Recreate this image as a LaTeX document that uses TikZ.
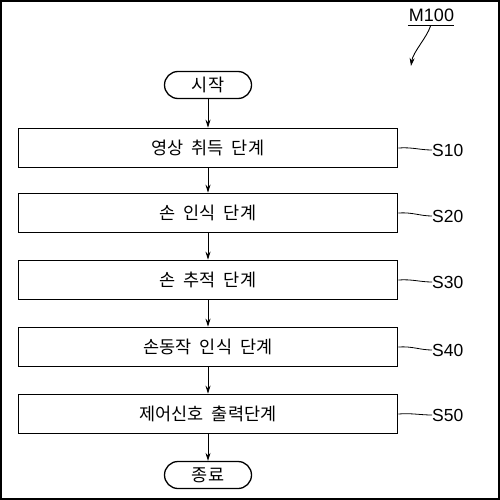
\documentclass[tikz,border=0pt]{standalone}
\usepackage{fontspec}
\setmainfont{Liberation Sans}
\newfontfamily\kr{Noto Sans CJK KR}
\newcommand\krtext{\kr\fontsize{17.5}{19}\selectfont\spaceskip=0.45em plus 0pt minus 0pt\relax}
\usetikzlibrary{arrows.meta}
\begin{document}
\begin{tikzpicture}[x=1pt,y=-1pt,
 stepbox/.style={draw,line width=1.6pt,minimum width=379pt,minimum height=39pt,inner sep=0pt,font=\krtext},
 term/.style={draw,line width=1.3pt,rounded corners=13.5pt,minimum width=87pt,minimum height=27pt,inner sep=0pt,font=\krtext},
 arr/.style={line width=0.9pt,-{Stealth[length=8pt,width=5pt]}},
 lead/.style={line width=0.8pt},
 lbl/.style={font=\fontsize{17.5}{19}\selectfont,anchor=west,inner sep=0pt}]
\useasboundingbox (0,0) rectangle (500,500);
\draw[line width=2pt] (1,1) rectangle (498.5,498.5);
\node[term] (st) at (208,85) {시작};
\node[stepbox] (b1) at (208,148) {영상 취득 단계};
\node[stepbox] (b2) at (208,213) {손 인식 단계};
\node[stepbox] (b3) at (208,280) {손 추적 단계};
\node[stepbox] (b4) at (208,347) {손동작 인식 단계};
\node[stepbox] (b5) at (208,414) {제어신호 출력단계};
\node[term] (en) at (208,475) {종료};
\draw[arr] (st) -- (b1);
\draw[arr] (b1) -- (b2);
\draw[arr] (b2) -- (b3);
\draw[arr] (b3) -- (b4);
\draw[arr] (b4) -- (b5);
\draw[arr] (b5) -- (en);
\node[lbl] (s1) at (432,150) {S10};
\node[lbl] (s2) at (432,216) {S20};
\node[lbl] (s3) at (432,282) {S30};
\node[lbl] (s4) at (432,350) {S40};
\node[lbl] (s5) at (432,415) {S50};
\foreach \b/\s in {b1/s1,b2/s2,b3/s3,b4/s4,b5/s5}{
  \draw[lead] (\b.east) .. controls ([xshift=14pt,yshift=1pt]\b.east) and ([xshift=-12pt,yshift=0pt]\s.west) .. (\s.west);
}
\node[inner sep=0pt,font=\fontsize{18}{20}\selectfont] (m) at (431.5,15) {M100};
\draw[line width=0.9pt] ([xshift=-1pt,yshift=-4pt]m.south west) -- ([yshift=-4pt]m.south east);
\coordinate (ma) at ([xshift=-1pt,yshift=-4.5pt]m.south);
\coordinate (mb) at (411,66);
\draw[arr] (ma) .. controls ++(-4,12) and ++(2,-14) .. (mb);
\end{tikzpicture}
\end{document}
